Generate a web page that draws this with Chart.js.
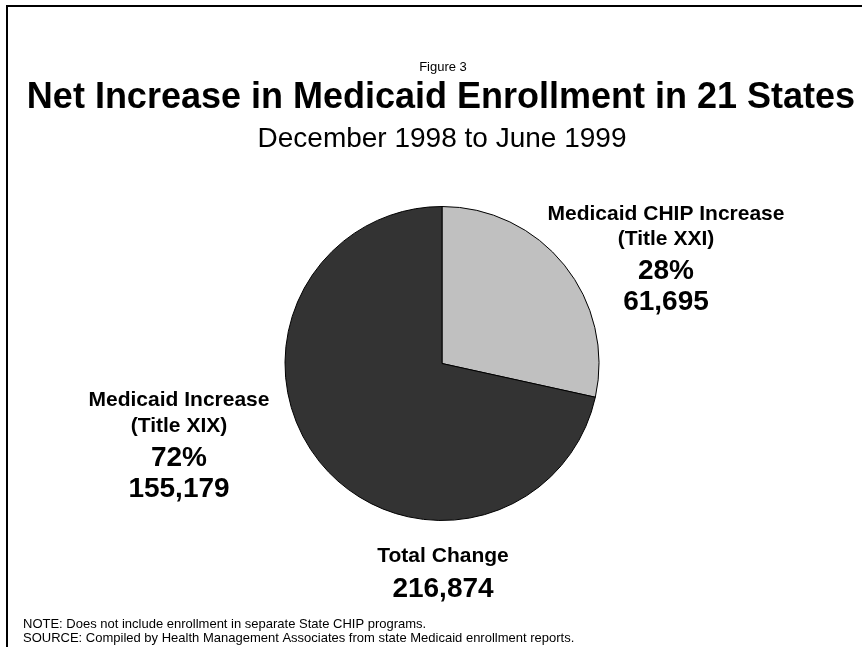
<!DOCTYPE html>
<html>
<head>
<meta charset="utf-8">
<script src="https://cdn.jsdelivr.net/npm/chart.js@4"></script>
<style>
  html, body { margin: 0; padding: 0; background: #ffffff; }
  #wrap { position: relative; width: 862px; height: 647px; }
</style>
</head>
<body>
<div id="wrap"><canvas id="chart" width="862" height="647"></canvas></div>
<script>
// Enrollment growth by program, December 1998 to June 1999
const categories = ['Medicaid CHIP Increase', 'Medicaid Increase'];
const subLabels = ['(Title XXI)', '(Title XIX)'];
const enrollment = [61695, 155179];
const sliceColors = ['#c0c0c0', '#333333'];

const figureLabel = 'Figure 3';
const titleText = 'Net Increase in Medicaid Enrollment in 21 States';
const subtitleText = 'December 1998 to June 1999';
const totalLabel = 'Total Change';
const notes = [
  'NOTE: Does not include enrollment in separate State CHIP programs.',
  'SOURCE: Compiled by Health Management Associates from state Medicaid enrollment reports.'
];

const FONT = '"Liberation Sans", Arial, Helvetica, sans-serif';
const fmt = n => n.toLocaleString('en-US');
const total = enrollment.reduce((a, b) => a + b, 0);
const pct = enrollment.map(v => Math.round(v / total * 100) + '%');

// Text blocks beside each slice: centre x and the baselines of the four lines
const sliceLabelPos = [
  { x: 666, lines: [220, 245, 279, 310] },
  { x: 179, lines: [406, 432, 466, 497] }
];

const annotations = {
  id: 'annotations',
  afterDraw(chart) {
    const ctx = chart.ctx;
    ctx.save();

    // frame
    ctx.strokeStyle = '#000';
    ctx.lineWidth = 2;
    ctx.strokeRect(7, 6, 900, 700);

    ctx.fillStyle = '#000';
    ctx.textAlign = 'center';
    ctx.textBaseline = 'alphabetic';

    ctx.font = '13px ' + FONT;
    ctx.fillText(figureLabel, 443, 71);
    ctx.font = 'bold 36px ' + FONT;
    ctx.fillText(titleText, 441, 108);
    ctx.font = '28px ' + FONT;
    ctx.fillText(subtitleText, 442, 147);

    categories.forEach((name, i) => {
      const p = sliceLabelPos[i];
      ctx.font = 'bold 21px ' + FONT;
      ctx.fillText(name, p.x, p.lines[0]);
      ctx.fillText(subLabels[i], p.x, p.lines[1]);
      ctx.font = 'bold 28px ' + FONT;
      ctx.fillText(pct[i], p.x, p.lines[2]);
      ctx.fillText(fmt(enrollment[i]), p.x, p.lines[3]);
    });

    ctx.font = 'bold 21px ' + FONT;
    ctx.fillText(totalLabel, 443, 562);
    ctx.font = 'bold 28px ' + FONT;
    ctx.fillText(fmt(total), 443, 597);

    ctx.textAlign = 'left';
    ctx.font = '13px ' + FONT;
    ctx.fillText(notes[0], 23, 628);
    ctx.fillText(notes[1], 23, 642);

    ctx.restore();
  }
};

new Chart(document.getElementById('chart'), {
  type: 'pie',
  data: {
    labels: categories,
    datasets: [{
      data: enrollment,
      backgroundColor: sliceColors,
      borderColor: '#000000',
      borderWidth: 1
    }]
  },
  options: {
    responsive: false,
    animation: false,
    radius: 157,
    layout: { padding: { left: 200, right: 178, top: 150, bottom: 70 } },
    plugins: {
      legend: { display: false },
      tooltip: { enabled: false },
      title: { display: false }
    }
  },
  plugins: [annotations]
});
</script>
</body>
</html>
